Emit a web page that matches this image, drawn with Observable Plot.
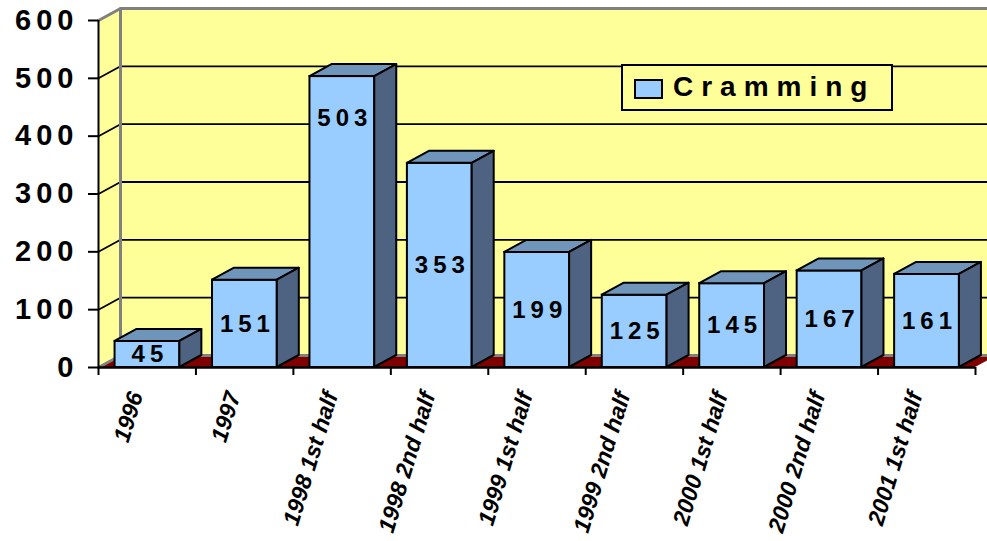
<!DOCTYPE html>
<html>
<head>
<meta charset="utf-8">
<script src="https://cdn.jsdelivr.net/npm/d3@7"></script>
<script src="https://cdn.jsdelivr.net/npm/@observablehq/plot@0.6"></script>
<style>
  html, body { margin: 0; padding: 0; background: #ffffff; }
  #wrap { position: relative; width: 987px; height: 541px; overflow: hidden; font-family: "Liberation Sans", Arial, sans-serif; }
  #wrap svg { position: absolute; left: 0; top: 0; overflow: visible; }
  g[aria-label="y-axis tick label"] text { letter-spacing: 5px; }
  g[aria-label="text"] text { letter-spacing: 5px; }
  #legend { position: absolute; left: 621px; top: 64px; width: 268px; height: 43px; border: 2px solid #000; background: #FFFF99; }
  #legend .sw { position: absolute; left: 11px; top: 13px; width: 25px; height: 16px; border: 2px solid #000; background: #99CCFF; }
  #legend .lb { position: absolute; left: 50px; top: 5px; font: bold 28px "Liberation Sans", Arial, sans-serif; letter-spacing: 8px; line-height: 32px; }
</style>
</head>
<body>
<div id="wrap"></div>
<script>
// ---- data ----
const categories = ["1996", "1997", "1998 1st half", "1998 2nd half", "1999 1st half",
                    "1999 2nd half", "2000 1st half", "2000 2nd half", "2001 1st half"];
const values = [45, 151, 503, 353, 199, 125, 145, 167, 161];
const yTicks = [0, 100, 200, 300, 400, 500, 600];
const seriesName = "Cramming";

// ---- layout ----
const W = 987, H = 541;
const mL = 98, mR = 12, mT = 20, mB = 174;
const N = categories.length;
const YMAX = yTicks[yTicks.length - 1];
const kx = (W - mL - mR) / N;          // px per category
const ky = (H - mT - mB) / YMAX;       // px per unit
const DX = 22 / kx;                    // 3D depth in x units
const DV = 12 / ky;                    // 3D depth in y units
const F0 = 0.17, F1 = 0.835;           // front face within band

const rows = categories.map((c, i) => ({cat: c, i, v: values[i]}));
const labelRows = rows.map(d => ({...d, x: d.i + (F0 + F1) / 2, ly: d.v > 400 ? d.v - 72 : d.v / 2}));
const topPts = rows.flatMap(d => [
  {cat: d.cat, y: d.v, x1: d.i + F0, x2: d.i + F1},
  {cat: d.cat, y: d.v + DV, x1: d.i + F0 + DX, x2: d.i + F1 + DX}
]);
const sidePts = rows.flatMap(d => [
  {cat: d.cat, x: d.i + F1, y1: 0, y2: d.v},
  {cat: d.cat, x: d.i + F1 + DX, y1: DV, y2: d.v + DV}
]);
const gridPts = yTicks.filter(t => t > 0 && t < YMAX).flatMap(t => [
  {t, x: 0, y: t}, {t, x: DX, y: t + DV}, {t, x: N + DX, y: t + DV}
]);
const edgePts = [
  {k: "top", x: 0, y: YMAX}, {k: "top", x: DX, y: YMAX + DV}, {k: "top", x: N + DX, y: YMAX + DV},
  {k: "back", x: DX, y: DV}, {k: "back", x: DX, y: YMAX + DV},
  {k: "floor", x: 0, y: 0}, {k: "floor", x: DX, y: DV}, {k: "floor", x: N + DX, y: DV}
];

const YELLOW = "#FFFF99", FRONT = "#99CCFF", TOP = "#6F95BA", SIDE = "#4E6281", FLOOR = "#800000", GREY = "#808080";
const FONT = "Liberation Sans, Arial, sans-serif";

const chart = Plot.plot({
  width: W, height: H,
  marginLeft: mL, marginRight: mR, marginTop: mT, marginBottom: mB,
  style: {fontFamily: FONT, background: "white", overflow: "visible"},
  x: {domain: [0, N], axis: null},
  y: {domain: [0, YMAX], axis: null},
  marks: [
    // back wall
    Plot.rect([0], {x1: DX, x2: N + DX, y1: DV, y2: YMAX + DV, fill: YELLOW}),
    // side wall
    Plot.areaY([{x: 0, y1: 0, y2: YMAX}, {x: DX, y1: DV, y2: YMAX + DV}], {x: "x", y1: "y1", y2: "y2", fill: YELLOW}),
    // floor
    Plot.areaX([{y: 0, x1: 0, x2: N}, {y: DV, x1: DX, x2: N + DX}], {y: "y", x1: "x1", x2: "x2", fill: FLOOR}),
    // grid
    Plot.line(gridPts, {x: "x", y: "y", z: "t", stroke: "black", strokeWidth: 1.8}),
    Plot.line(edgePts, {x: "x", y: "y", z: "k", stroke: GREY, strokeWidth: 3}),
    // bars
    Plot.rect(rows, {x1: d => d.i + F0, x2: d => d.i + F1, y1: 0, y2: "v", fill: FRONT, stroke: "black", strokeWidth: 2}),
    Plot.areaX(topPts, {y: "y", x1: "x1", x2: "x2", z: "cat", fill: TOP, stroke: "black", strokeWidth: 2, strokeLinejoin: "round"}),
    Plot.areaY(sidePts, {x: "x", y1: "y1", y2: "y2", z: "cat", fill: SIDE, stroke: "black", strokeWidth: 2, strokeLinejoin: "round"}),
    // value labels
    Plot.text(labelRows, {x: "x", y: "ly", text: d => String(d.v), fontSize: 24, fontWeight: "bold", fill: "black", dx: 2.5}),
    // axes
    Plot.ruleX([0], {y1: 0, y2: YMAX, stroke: "black", strokeWidth: 2}),
    Plot.ruleY([0], {x1: 0, x2: N, stroke: "black", strokeWidth: 2.5}),
    Plot.axisY({ticks: yTicks, tickSize: 10, tickPadding: 10, fontSize: 29, fontWeight: "bold", strokeWidth: 2, fill: "black", color: "black"}),
    Plot.axisX({ticks: d3.range(N + 1), tickSize: 8, tickFormat: () => "", strokeWidth: 2}),
    Plot.axisX({ticks: d3.range(N).map(i => i + 0.5), tickSize: 0, tickPadding: 25, tickRotate: -73,
                tickFormat: d => categories[Math.floor(d)], fontSize: 23, fontStyle: "italic", fontWeight: "bold", dx: -11, fill: "black"})
  ]
});

const wrap = document.getElementById("wrap");
wrap.appendChild(chart);

const legend = document.createElement("div");
legend.id = "legend";
legend.innerHTML = `<div class="sw"></div><div class="lb"></div>`;
legend.querySelector(".lb").textContent = seriesName;
wrap.appendChild(legend);
</script>
</body>
</html>
